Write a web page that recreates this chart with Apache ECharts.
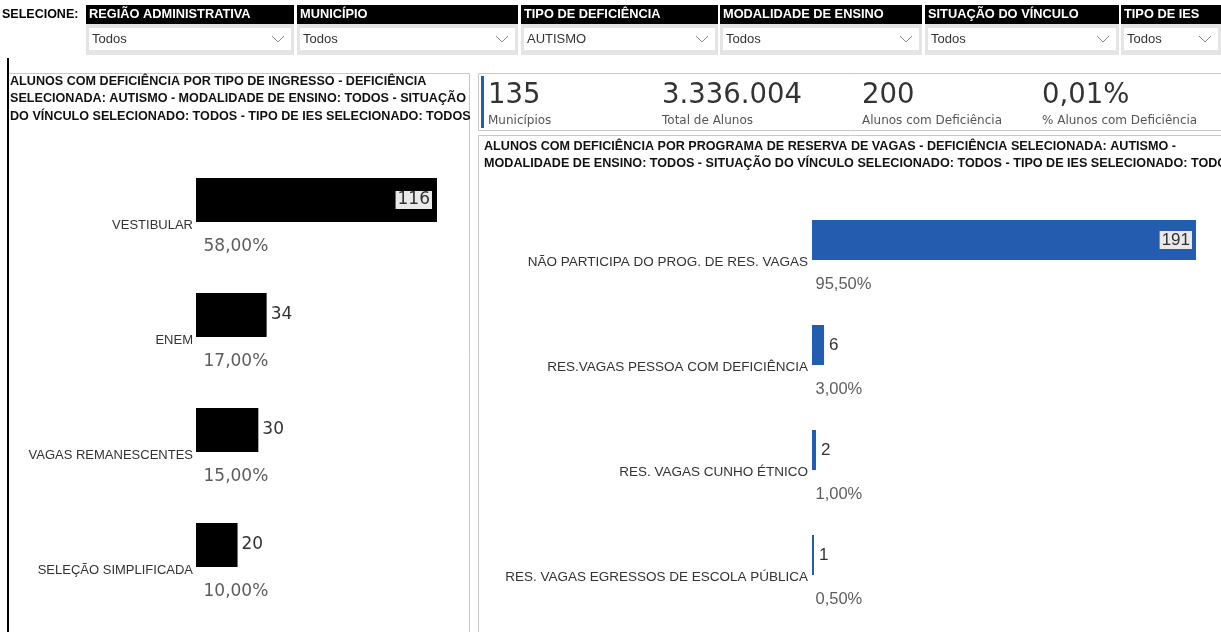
<!DOCTYPE html>
<html>
<head>
<meta charset="utf-8">
<script src="https://cdn.jsdelivr.net/npm/echarts@6/dist/echarts.min.js"></script>
<style>
  html, body { margin: 0; padding: 0; background: #ffffff; }
  #chart { width: 1221px; height: 632px; }
</style>
</head>
<body>
<div id="chart"></div>
<script>
// Painel: alunos com deficiência por tipo de ingresso e por programa de reserva de vagas

// Filtros (segmentações)
const filterHeaders = ['REGIÃO ADMINISTRATIVA', 'MUNICÍPIO', 'TIPO DE DEFICIÊNCIA', 'MODALIDADE DE ENSINO', 'SITUAÇÃO DO VÍNCULO', 'TIPO DE IES'];
const filterValues = ['Todos', 'Todos', 'AUTISMO', 'Todos', 'Todos', 'Todos'];

// Cartões de indicadores
const kpiValues = ['135', '3.336.004', '200', '0,01%'];
const kpiLabels = ['Municípios', 'Total de Alunos', 'Alunos com Deficiência', '% Alunos com Deficiência'];

// Tipo de ingresso
const ingressoCategories = ['VESTIBULAR', 'ENEM', 'VAGAS REMANESCENTES', 'SELEÇÃO SIMPLIFICADA'];
const ingressoValues = [116, 34, 30, 20];

// Programa de reserva de vagas
const reservaCategories = ['NÃO PARTICIPA DO PROG. DE RES. VAGAS', 'RES.VAGAS PESSOA COM DEFICIÊNCIA', 'RES. VAGAS CUNHO ÉTNICO', 'RES. VAGAS EGRESSOS DE ESCOLA PÚBLICA'];
const reservaValues = [191, 6, 2, 1];

const leftTitle = [
  'ALUNOS COM DEFICIÊNCIA POR TIPO DE INGRESSO - DEFICIÊNCIA',
  'SELECIONADA: AUTISMO - MODALIDADE DE ENSINO: TODOS - SITUAÇÃO',
  'DO VÍNCULO SELECIONADO: TODOS - TIPO DE IES SELECIONADO: TODOS'
];
const rightTitle = [
  'ALUNOS COM DEFICIÊNCIA POR PROGRAMA DE RESERVA DE VAGAS - DEFICIÊNCIA SELECIONADA: AUTISMO -',
  'MODALIDADE DE ENSINO: TODOS - SITUAÇÃO DO VÍNCULO SELECIONADO: TODOS - TIPO DE IES SELECIONADO: TODOS'
];

const SANS = '"Liberation Sans", Arial, sans-serif';
const DEJAVU = '"DejaVu Sans", Verdana, sans-serif';
const BLUE = '#245DAF';

function pct(v, total) {
  return (v / total * 100).toFixed(2).replace('.', ',') + '%';
}
function sum(a) { return a.reduce((s, v) => s + v, 0); }

// ---------- decorative layout ----------
const graphic = [];

// filter bar
graphic.push({ type: 'text', x: 2, y: 8, style: { text: 'SELECIONE:', font: 'bold 12.5px ' + SANS, fill: '#000' } });
const slicerX = [86, 297, 521, 720, 925, 1121];
const slicerEnd = [294, 518, 718, 922, 1119, 1221];
filterHeaders.forEach((h, i) => {
  const x0 = slicerX[i], x1 = slicerEnd[i];
  graphic.push({ type: 'rect', shape: { x: x0, y: 5, width: x1 - x0, height: 19 }, style: { fill: '#000' } });
  graphic.push({ type: 'text', x: x0 + 3, y: 8, style: { text: h, font: 'bold 12.8px ' + SANS, fill: '#fff' } });
  graphic.push({ type: 'rect', shape: { x: x0, y: 24, width: x1 - x0, height: 31 }, style: { fill: '#e4e4e4' } });
  graphic.push({ type: 'rect', shape: { x: x0 + 3, y: 28, width: x1 - x0 - 6, height: 22 }, style: { fill: '#fff' } });
  graphic.push({ type: 'text', x: x0 + 6, y: 33, style: { text: filterValues[i], font: '13px ' + SANS, fill: '#333' } });
  const cx = x1 - 16;
  graphic.push({ type: 'polyline', shape: { points: [[cx - 6, 36], [cx, 42], [cx + 6, 36]] }, style: { stroke: '#888', lineWidth: 1, fill: null } });
});

// left panel
graphic.push({ type: 'rect', shape: { x: 8.5, y: 73.5, width: 461, height: 600 }, style: { fill: '#fff', stroke: '#c8c8c8', lineWidth: 1 } });
graphic.push({ type: 'line', shape: { x1: 8, y1: 58, x2: 8, y2: 632 }, style: { stroke: '#000', lineWidth: 2 } });
leftTitle.forEach((t, i) => {
  graphic.push({ type: 'text', x: 10, y: 75 + i * 17.5, style: { text: t, font: 'bold 12.6px ' + SANS, fill: '#111' } });
});

// KPI cards
graphic.push({ type: 'rect', shape: { x: 478.5, y: 73.5, width: 760, height: 57 }, style: { fill: '#fff', stroke: '#c8c8c8', lineWidth: 1 } });
graphic.push({ type: 'rect', shape: { x: 481, y: 76, width: 3, height: 52 }, style: { fill: BLUE } });
const kpiX = [488, 662, 862, 1042];
kpiValues.forEach((v, i) => {
  graphic.push({ type: 'text', x: kpiX[i], y: 82, style: { text: v, font: '27.5px ' + DEJAVU, fill: '#333' } });
  graphic.push({ type: 'text', x: kpiX[i], y: 115, style: { text: kpiLabels[i], font: '12px ' + DEJAVU, fill: '#555' } });
});

// right panel
graphic.push({ type: 'rect', shape: { x: 478.5, y: 135.5, width: 760, height: 600 }, style: { fill: '#fff', stroke: '#c8c8c8', lineWidth: 1 } });
rightTitle.forEach((t, i) => {
  graphic.push({ type: 'text', x: 484, y: 140 + i * 17, style: { text: t, font: 'bold 12.6px ' + SANS, fill: '#111' } });
});

// ---------- charts ----------
function valueData(values, insideStyle, outsideStyle) {
  const max = Math.max(...values);
  return values.map(v => ({
    value: v,
    label: v >= 0.8 * max ? insideStyle : outsideStyle
  }));
}

const ingressoTotal = sum(ingressoValues);
const reservaTotal = sum(reservaValues);

const option = {
  animation: false,
  backgroundColor: '#ffffff',
  graphic: { elements: graphic },
  grid: [
    { left: 196, top: 142.5, width: 241, height: 460 },
    { left: 812, top: 187.5, width: 384, height: 420 }
  ],
  xAxis: [
    { gridIndex: 0, type: 'value', min: 0, max: Math.max(...ingressoValues), show: false },
    { gridIndex: 1, type: 'value', min: 0, max: Math.max(...reservaValues), show: false }
  ],
  yAxis: [
    {
      gridIndex: 0, type: 'category', inverse: true, data: ingressoCategories,
      axisLine: { show: false }, axisTick: { show: false }, splitLine: { show: false },
      // category name sits on a second line, below the bar centre
      axisLabel: { margin: 3, fontSize: 13, fontFamily: SANS, color: '#333', lineHeight: 50, formatter: v => '\n' + v }
    },
    {
      gridIndex: 1, type: 'category', inverse: true, data: reservaCategories,
      axisLine: { show: false }, axisTick: { show: false }, splitLine: { show: false },
      axisLabel: { margin: 4, fontSize: 13.5, fontFamily: SANS, color: '#333', lineHeight: 44, formatter: v => '\n' + v }
    }
  ],
  series: [
    {
      type: 'bar', xAxisIndex: 0, yAxisIndex: 0, barWidth: 44, silent: true,
      itemStyle: { color: '#000' },
      label: { show: true, fontFamily: DEJAVU, fontSize: 17, color: '#333' },
      data: valueData(ingressoValues,
        { position: 'insideRight', distance: 5, backgroundColor: '#e9e9e9', padding: [1, 2, 0, 2] },
        { position: 'right', distance: 4 })
    },
    {
      type: 'scatter', xAxisIndex: 0, yAxisIndex: 0, symbolSize: 1, silent: true,
      itemStyle: { color: 'transparent' },
      label: {
        show: true, position: 'right', distance: 0, offset: [7, 47],
        fontFamily: DEJAVU, fontSize: 17, color: '#333',
        formatter: p => pct(ingressoValues[p.dataIndex], ingressoTotal)
      },
      data: ingressoValues.map((v, i) => [0, i])
    },
    {
      type: 'bar', xAxisIndex: 1, yAxisIndex: 1, barWidth: 40, silent: true,
      itemStyle: { color: BLUE },
      label: { show: true, fontFamily: SANS, fontSize: 17, color: '#333' },
      data: valueData(reservaValues,
        { position: 'insideRight', distance: 4, backgroundColor: '#e9e9e9', padding: [1, 2, 0, 2] },
        { position: 'right', distance: 5 })
    },
    {
      type: 'scatter', xAxisIndex: 1, yAxisIndex: 1, symbolSize: 1, silent: true,
      itemStyle: { color: 'transparent' },
      label: {
        show: true, position: 'right', distance: 0, offset: [3, 44],
        fontFamily: SANS, fontSize: 16.5, color: '#333',
        formatter: p => pct(reservaValues[p.dataIndex], reservaTotal)
      },
      data: reservaValues.map((v, i) => [0, i])
    }
  ]
};

const chart = echarts.init(document.getElementById('chart'), null, { renderer: 'canvas' });
chart.setOption(option);
</script>
</body>
</html>
